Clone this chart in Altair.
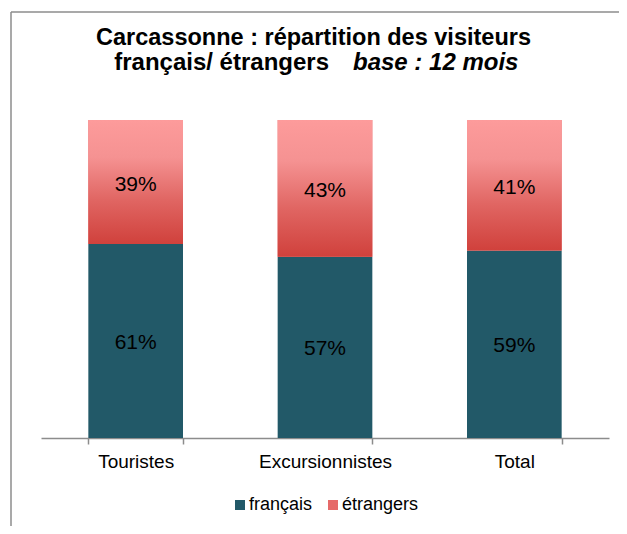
import altair as alt
import pandas as pd

categories = ["Touristes", "Excursionnistes", "Total"]
francais = [61, 57, 59]
etrangers = [39, 43, 41]

TITLE_LINE1 = "Carcassonne : répartition des visiteurs"
TITLE_LINE2A = "français/ étrangers"
TITLE_LINE2B = "base : 12 mois"

TEAL = "#225968"
RED_SOLID = "#E66A69"
FONT = "Liberation Sans"

df = pd.DataFrame({"cat": categories, "fr": francais, "et": etrangers})

W, H = 568, 318

xenc = alt.X(
    "cat:N",
    sort=categories,
    scale=alt.Scale(paddingInner=0.5, paddingOuter=0.25),
    axis=alt.Axis(
        title=None, labelAngle=0, labelFontSize=19, labelColor="#000000",
        labelFont=FONT, domainColor="#8c8c8c", domainWidth=1.5,
        tickColor="#8c8c8c", tickWidth=1.5, tickSize=6, tickBand="extent",
        labelPadding=8,
    ),
)
yscale = alt.Scale(domain=[0, 100])

base = alt.Chart(df)

stacked = base.transform_fold(["fr", "et"], as_=["key", "val"]).transform_calculate(
    serie="datum.key == 'fr' ? 'français' : 'étrangers'",
    ord="datum.key == 'fr' ? 0 : 1",
).mark_bar().encode(
    x=xenc,
    y=alt.Y("val:Q", stack="zero", scale=yscale, axis=None),
    order=alt.Order("ord:Q"),
    color=alt.Color(
        "serie:N",
        scale=alt.Scale(domain=["français", "étrangers"], range=[TEAL, RED_SOLID]),
        legend=alt.Legend(
            title=None, orient="none", direction="horizontal",
            legendX=190, legendY=376, symbolType="square", symbolSize=100,
            symbolStrokeWidth=0, labelFontSize=18, labelFont=FONT,
            labelColor="#000000", labelOffset=0, columnPadding=11,
        ),
    ),
)

grad = alt.Gradient(
    gradient="linear",
    stops=[
        alt.GradientStop(color="#FD9B9B", offset=0),
        alt.GradientStop(color="#F59292", offset=0.3),
        alt.GradientStop(color="#E06562", offset=0.65),
        alt.GradientStop(color="#D0413C", offset=1),
    ],
    x1=0, x2=0, y1=0, y2=1,
)

red_bars = base.transform_calculate(top="datum.fr + datum.et").mark_bar(
    color=grad
).encode(
    x=xenc,
    y=alt.Y("fr:Q", scale=yscale, axis=None),
    y2="top:Q",
)

lab_fr = base.transform_calculate(
    mid="datum.fr / 2", txt="format(datum.fr, 'd') + '%'"
).mark_text(fontSize=21, font=FONT, color="#000000", baseline="middle", dy=2).encode(
    x=xenc, y=alt.Y("mid:Q", scale=yscale, axis=None), text="txt:N"
)
lab_et = base.transform_calculate(
    mid="datum.fr + datum.et / 2", txt="format(datum.et, 'd') + '%'"
).mark_text(fontSize=21, font=FONT, color="#000000", baseline="middle", dy=3).encode(
    x=xenc, y=alt.Y("mid:Q", scale=yscale, axis=None), text="txt:N"
)

one = pd.DataFrame({"t": [0]})
t1 = alt.Chart(one).mark_text(
    text=TITLE_LINE1, fontSize=23.5, fontWeight="bold", font=FONT,
    align="center", baseline="alphabetic", color="#000000",
).encode(x=alt.value(272.5), y=alt.value(-75))
t2a = alt.Chart(one).mark_text(
    text=TITLE_LINE2A, fontSize=24, fontWeight="bold", font=FONT,
    align="right", baseline="alphabetic", color="#000000",
).encode(x=alt.value(288), y=alt.value(-50))
t2b = alt.Chart(one).mark_text(
    text=TITLE_LINE2B, fontSize=24, fontWeight="bold", fontStyle="italic",
    font=FONT, align="left", baseline="alphabetic", color="#000000",
).encode(x=alt.value(312), y=alt.value(-50))

frame_top = alt.Chart(one).mark_rule(color="#8c8c8c", strokeWidth=1.5).encode(
    x=alt.value(-30), x2=alt.value(700), y=alt.value(-108)
)
frame_left = alt.Chart(one).mark_rule(color="#8c8c8c", strokeWidth=1.5).encode(
    x=alt.value(-30), y=alt.value(-108), y2=alt.value(600)
)

chart = alt.layer(
    frame_top, frame_left, stacked, red_bars, lab_fr, lab_et, t1, t2a, t2b
).properties(
    width=W,
    height=H,
    autosize=alt.AutoSizeParams(type="none"),
    padding={"left": 33, "top": 112, "right": 10, "bottom": 88},
).configure_view(stroke=None)

chart.save("out.html", embed_options={"renderer": "svg", "actions": False})
